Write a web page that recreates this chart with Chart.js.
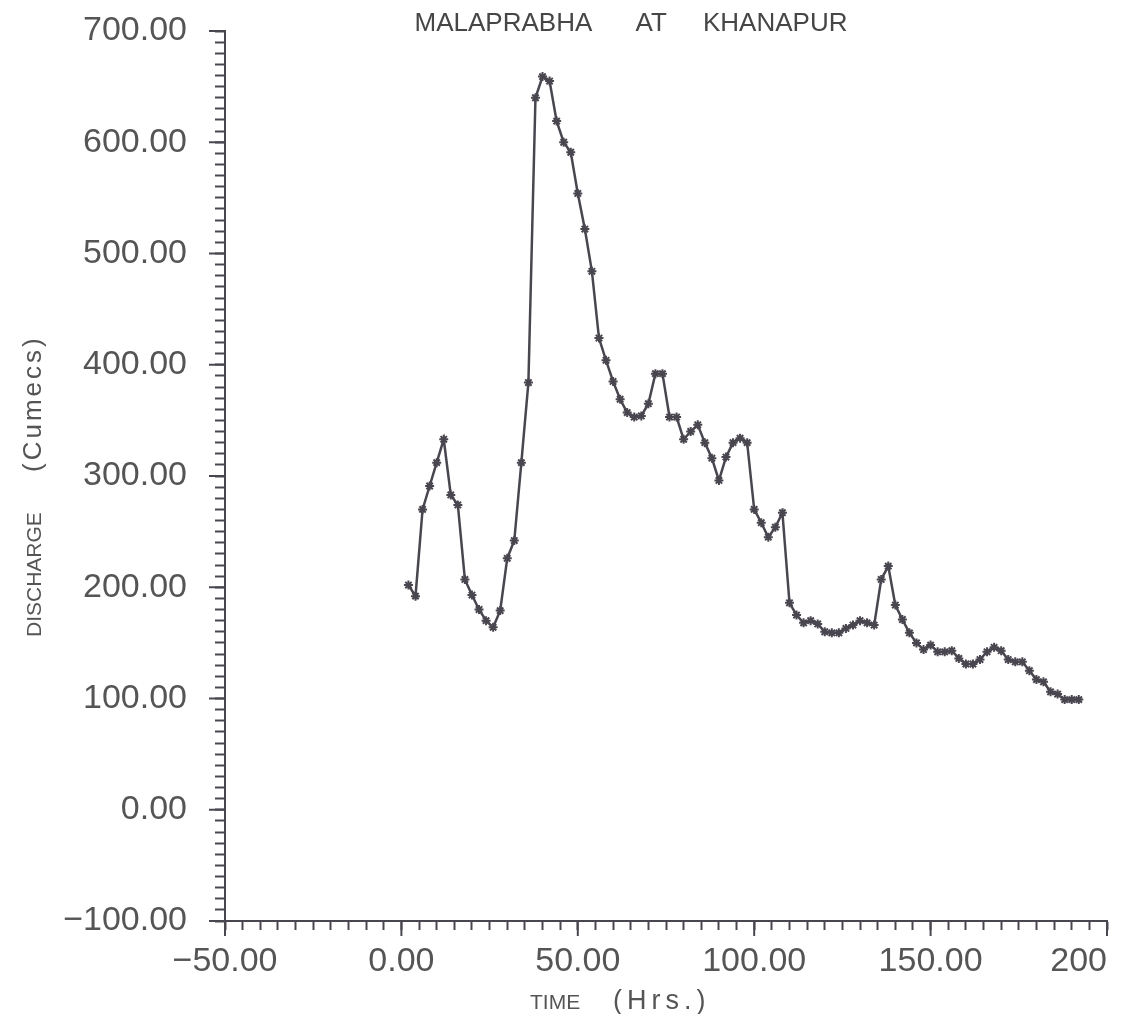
<!DOCTYPE html>
<html>
<head>
<meta charset="utf-8">
<title>Malaprabha at Khanapur</title>
<script src="https://cdn.jsdelivr.net/npm/chart.js@4.4.0/dist/chart.umd.min.js"></script>
<style>
  html, body { margin: 0; padding: 0; background: #fff; }
  canvas { display: block; }
</style>
</head>
<body>
<canvas id="myCanvas" width="1126" height="1014"></canvas>
<script>
// hydrograph, one reading every 2 hours
const timeHrs = [
  2, 4, 6, 8, 10, 12, 14, 16, 18, 20, 22, 24, 26, 28, 30, 32, 34, 36, 38, 40,
  42, 44, 46, 48, 50, 52, 54, 56, 58, 60, 62, 64, 66, 68, 70, 72, 74, 76, 78, 80,
  82, 84, 86, 88, 90, 92, 94, 96, 98, 100, 102, 104, 106, 108, 110, 112, 114, 116, 118, 120,
  122, 124, 126, 128, 130, 132, 134, 136, 138, 140, 142, 144, 146, 148, 150, 152, 154, 156, 158, 160,
  162, 164, 166, 168, 170, 172, 174, 176, 178, 180, 182, 184, 186, 188, 190, 192
];
const discharge = [
  202, 192, 270, 291, 312, 333, 283, 274, 207, 193, 180, 170, 164, 179, 226, 242, 312, 384, 640, 659,
  655, 619, 600, 591, 554, 522, 484, 424, 404, 385, 369, 357, 353, 354, 365, 392, 392, 353, 353, 333,
  340, 346, 330, 316, 296, 317, 330, 334, 330, 270, 258, 245, 254, 267, 186, 175, 168, 170, 167, 160,
  159, 159, 163, 166, 170, 168, 166, 207, 219, 184, 171, 159, 150, 144, 148, 142, 142, 143, 136, 131,
  131, 135, 142, 146, 143, 135, 133, 133, 125, 117, 115, 106, 104, 99, 99, 99
];

const xTickValues = [-50, 0, 50, 100, 150, 200];
const xTickLabels = ["\u221250.00", "0.00", "50.00", "100.00", "150.00", "200\u00a0\u00a0\u00a0\u00a0\u00a0\u00a0"];
const yTickValues = [-100, 0, 100, 200, 300, 400, 500, 600, 700];
const yTickLabels = ["\u2212100.00", "0.00", "100.00", "200.00", "300.00", "400.00", "500.00", "600.00", "700.00"];

const chartTitle = "MALAPRABHA      AT     KHANAPUR";
const xTitle = "TIME";
const xUnit = "(Hrs.)";
const yTitle = "DISCHARGE";
const yUnit = "(Cumecs)";

const ink = "#4a4650";
const textInk = "#555555";
const fontFamily = '"Liberation Sans", Arial, sans-serif';

// longer major ticks + the plotter style titles
const axisDecor = {
  id: "axisDecor",
  afterDraw(chart) {
    const ctx = chart.ctx;
    const area = chart.chartArea;
    const xs = chart.scales.x;
    const ys = chart.scales.y;
    ctx.save();
    ctx.strokeStyle = ink;
    ctx.lineWidth = 2;
    ys.ticks.forEach((t) => {
      if (t.value % 100 !== 0) return;
      const y = ys.getPixelForValue(t.value);
      ctx.beginPath();
      ctx.moveTo(area.left, y);
      ctx.lineTo(area.left - 16, y);
      ctx.stroke();
    });
    xs.ticks.forEach((t) => {
      if (t.value % 50 !== 0) return;
      const x = xs.getPixelForValue(t.value);
      ctx.beginPath();
      ctx.moveTo(x, area.bottom);
      ctx.lineTo(x, area.bottom + 15);
      ctx.stroke();
    });

    ctx.fillStyle = "#464646";
    ctx.textBaseline = "middle";
    ctx.textAlign = "center";
    ctx.font = "26px " + fontFamily;
    ctx.fillText(chartTitle, area.left + 406, 24);

    ctx.fillStyle = textInk;
    ctx.textAlign = "left";
    ctx.font = "21px " + fontFamily;
    ctx.fillText(xTitle, area.left + 305, 1003);
    ctx.font = "27px " + fontFamily;
    ctx.letterSpacing = "5px";
    ctx.fillText(xUnit, area.left + 388, 1002);

    ctx.translate(35, 0);
    ctx.rotate(-Math.PI / 2);
    ctx.letterSpacing = "0px";
    ctx.font = "21px " + fontFamily;
    ctx.fillText(yTitle, -637, 0);
    ctx.font = "26px " + fontFamily;
    ctx.letterSpacing = "3px";
    ctx.fillText(yUnit, -472, -1);
    ctx.restore();
  }
};

const ctx = document.getElementById("myCanvas").getContext("2d");

new Chart(ctx, {
  type: "line",
  data: {
    datasets: [
      {
        label: "Discharge",
        data: timeHrs.map((t, i) => ({ x: t, y: discharge[i] })),
        borderColor: ink,
        backgroundColor: ink,
        borderWidth: 2.5,
        pointStyle: "star",
        pointRadius: 4.5,
        pointBorderWidth: 2,
        pointBorderColor: ink,
        tension: 0,
        fill: false
      }
    ]
  },
  options: {
    responsive: false,
    animation: false,
    devicePixelRatio: 1,
    layout: { padding: { top: 31, right: 19, bottom: 0, left: 0 } },
    plugins: {
      legend: { display: false },
      title: { display: false },
      tooltip: { enabled: false }
    },
    scales: {
      x: {
        type: "linear",
        position: "bottom",
        min: -50,
        max: 200,
        border: { display: true, color: ink, width: 2 },
        grid: { drawOnChartArea: false, drawTicks: true, tickLength: 9, tickWidth: 2, tickColor: ink },
        ticks: {
          stepSize: 5,
          autoSkip: false,
          maxRotation: 0,
          minRotation: 0,
          padding: 11,
          color: textInk,
          font: { family: fontFamily, size: 34 },
          callback: (v) => {
            const i = xTickValues.indexOf(v);
            return i >= 0 ? xTickLabels[i] : "";
          }
        },
        afterFit: (scale) => {
          scale.height = 93;
          scale.paddingLeft = 0;
          scale.paddingRight = 0;
        }
      },
      y: {
        type: "linear",
        min: -100,
        max: 700,
        border: { display: true, color: ink, width: 2 },
        grid: { drawOnChartArea: false, drawTicks: true, tickLength: 10, tickWidth: 2, tickColor: ink },
        ticks: {
          stepSize: 10,
          autoSkip: false,
          padding: 28,
          color: textInk,
          font: { family: fontFamily, size: 34 },
          callback: (v) => {
            const i = yTickValues.indexOf(v);
            return i >= 0 ? yTickLabels[i] : "";
          }
        },
        afterFit: (scale) => {
          scale.width = 225;
          scale.paddingTop = 0;
          scale.paddingBottom = 0;
        }
      }
    }
  },
  plugins: [axisDecor]
});
</script>
</body>
</html>
